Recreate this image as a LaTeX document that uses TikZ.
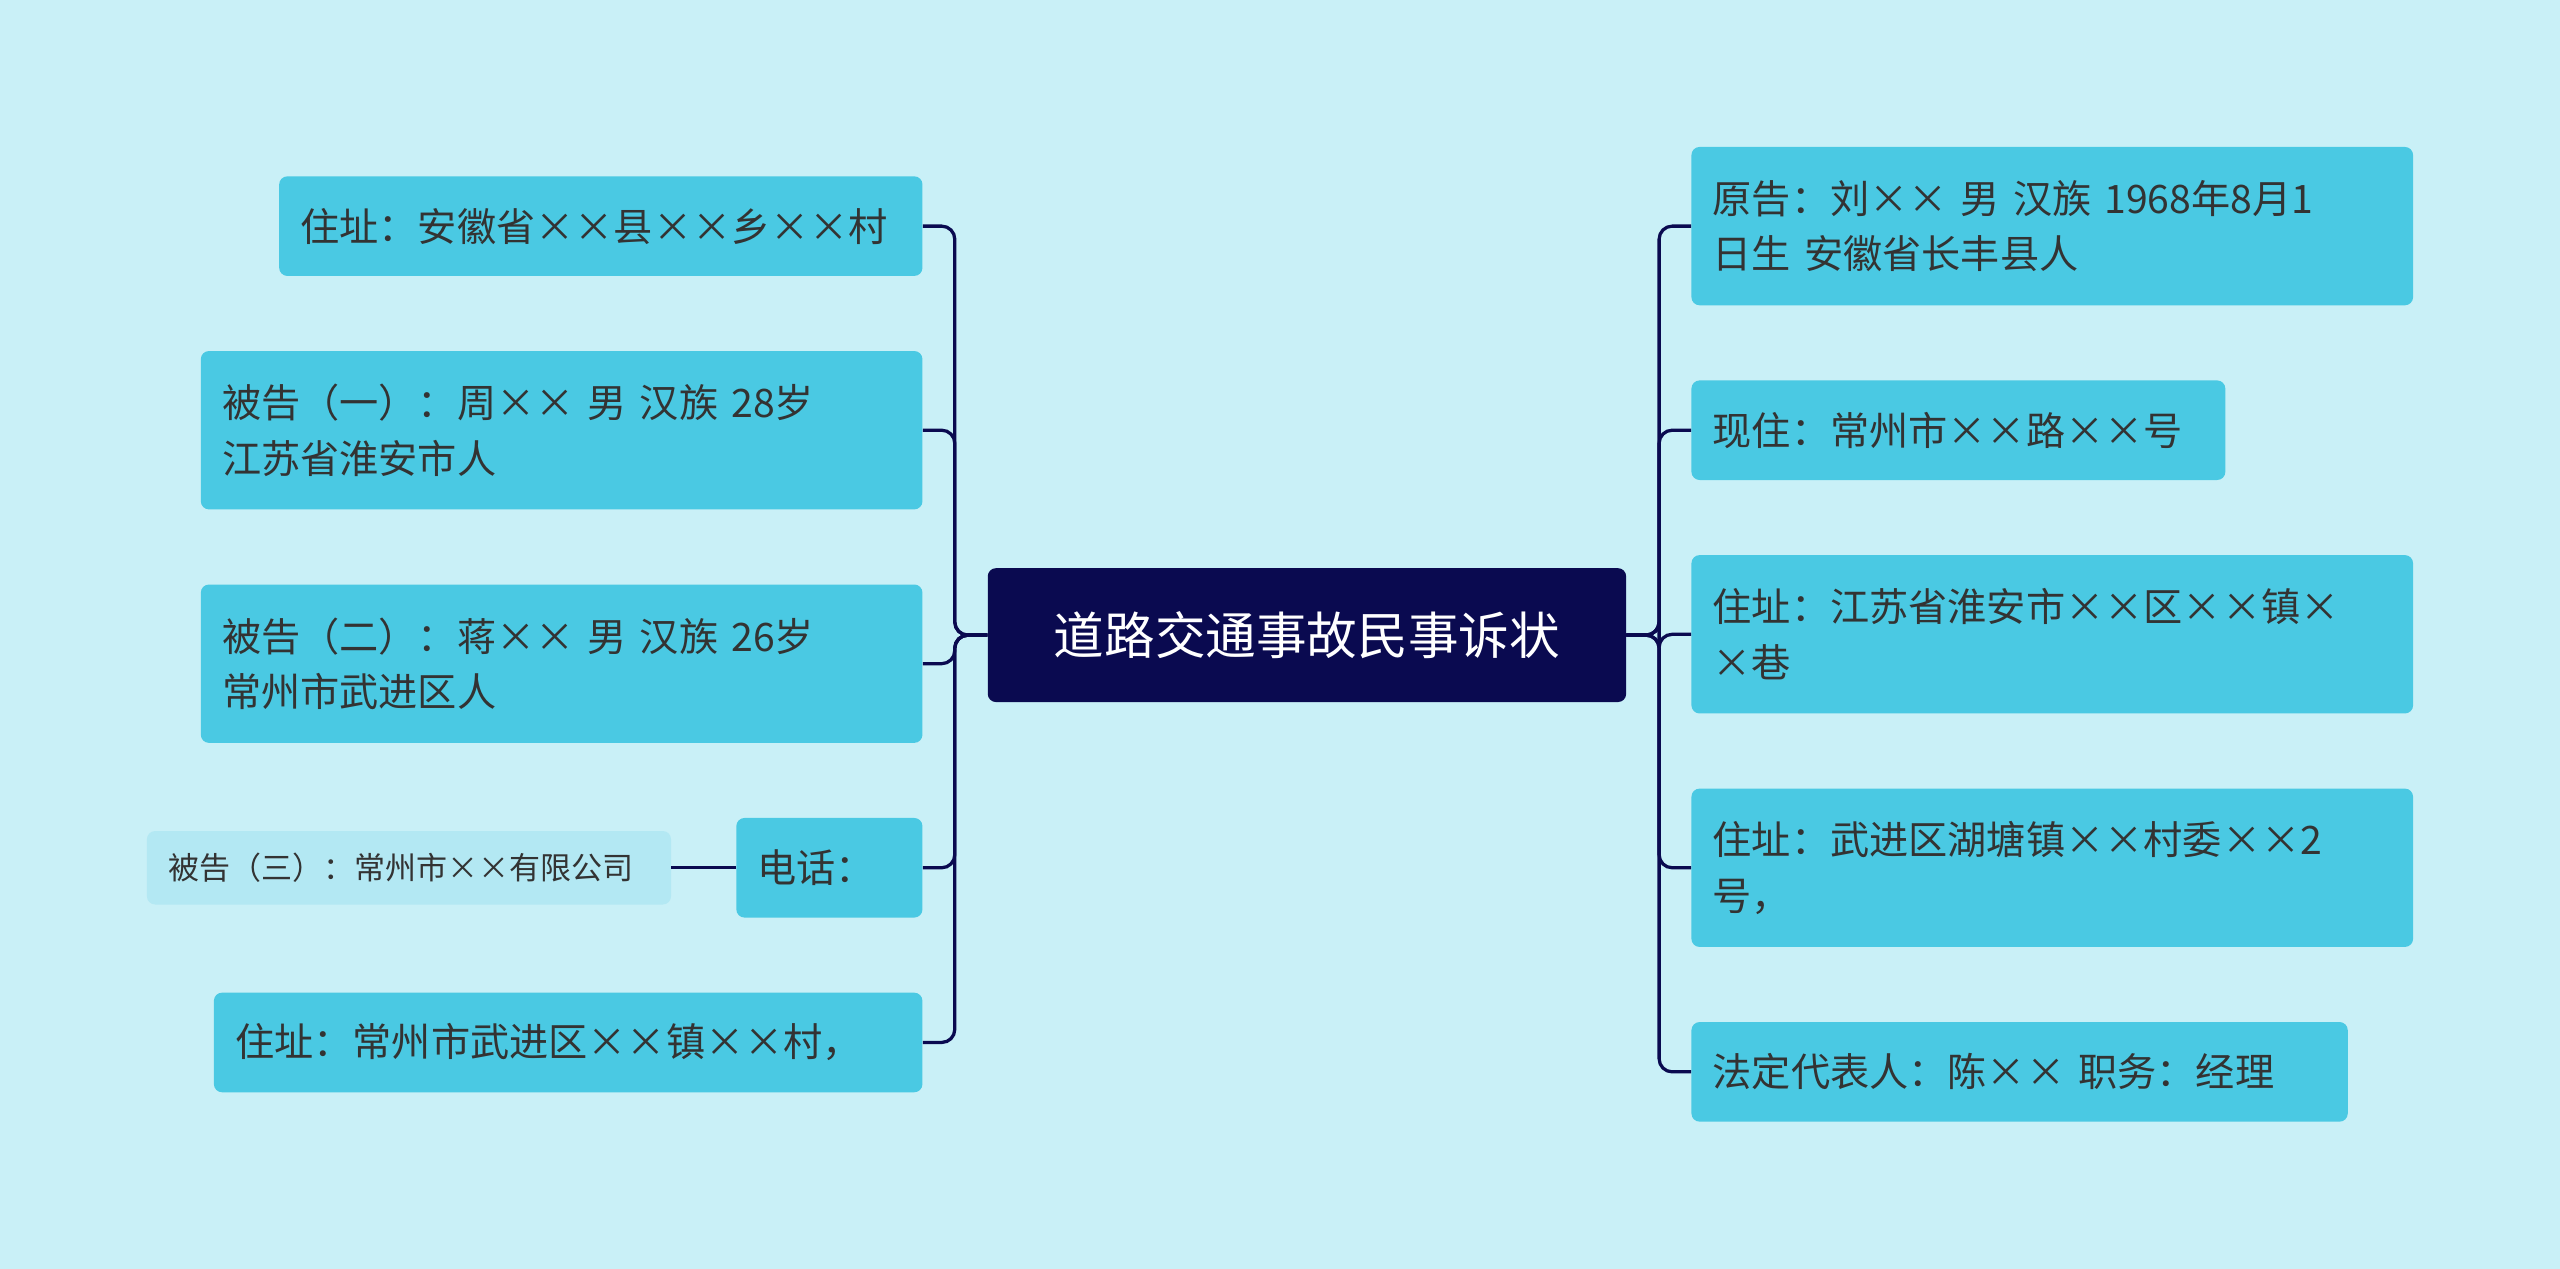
\documentclass[tikz,border=0pt]{standalone}
\usepackage{fontspec}
\setmainfont{Noto Sans CJK SC}
\definecolor{bg}{HTML}{C9F0F7}
\definecolor{nd}{HTML}{4AC9E3}
\definecolor{lt}{HTML}{B3E8F3}
\definecolor{tx}{HTML}{333333}
\definecolor{cn}{HTML}{0A0A50}
\tikzset{
 box/.style={fill=nd,rounded corners=5pt,text=tx,font=\fontsize{24}{34}\selectfont,align=left,inner xsep=13pt,inner ysep=0pt},
 lbox/.style={fill=lt,rounded corners=5pt,text=tx,font=\fontsize{19}{26}\selectfont,align=left,inner xsep=10pt,inner ysep=0pt},
 link/.style={draw=cn,line width=2pt,rounded corners=8pt}
}
\newcommand{\bx}[7]{% name, style, x1,y1,x2,y2,text
 \node[#2,minimum width=\fpeval{#5-#3}pt,minimum height=\fpeval{#6-#4}pt,text width=\fpeval{#5-#3-26}pt] (#1) at (\fpeval{(#3+#5)/2}pt,-\fpeval{(#4+#6)/2}pt) {#7};}
\begin{document}
\begin{tikzpicture}[x=1pt,y=1pt]
\fill[bg] (0,0) rectangle (1568,-777);
\useasboundingbox (0,0) rectangle (1568,-777);
\node[fill=cn,rounded corners=5pt,text=white,font=\fontsize{31}{36}\selectfont,minimum width=391pt,minimum height=82pt] (c) at (800.5,-389) {道路交通事故民事诉状};
\bx{l1}{box}{171}{108}{565}{169}{住址：安徽省××县××乡××村}
\bx{l2}{box}{123}{215}{565}{312}{被告（一）：周×× 男 汉族 28岁\\江苏省淮安市人}
\bx{l3}{box}{123}{358}{565}{455}{被告（二）：蒋×× 男 汉族 26岁\\常州市武进区人}
\bx{l4}{box}{451}{501}{565}{562}{电话：}
\bx{l5}{box}{131}{608}{565}{669}{住址：常州市武进区××镇××村，}
\bx{l6}{lbox}{90}{509}{411}{554}{被告（三）：常州市××有限公司}
\bx{r1}{box}{1036}{90}{1478}{187}{原告：刘×× 男 汉族 1968年8月1\\日生 安徽省长丰县人}
\bx{r2}{box}{1036}{233}{1363}{294}{现住：常州市××路××号}
\bx{r3}{box}{1036}{340}{1478}{437}{住址：江苏省淮安市××区××镇×\\×巷}
\bx{r4}{box}{1036}{483}{1478}{580}{住址：武进区湖塘镇××村委××2\\号，}
\bx{r5}{box}{1036}{626}{1438}{687}{法定代表人：陈×× 职务：经理}
\foreach \n in {l1,l2,l3,l4,l5} \draw[link] (c.west) -- ++(-20,0) |- (\n.east);
\foreach \n in {r1,r2,r3,r4,r5} \draw[link] (c.east) -- ++(20,0) |- (\n.west);
\draw[link] (l4.west) -- (l6.east);
\end{tikzpicture}
\end{document}
